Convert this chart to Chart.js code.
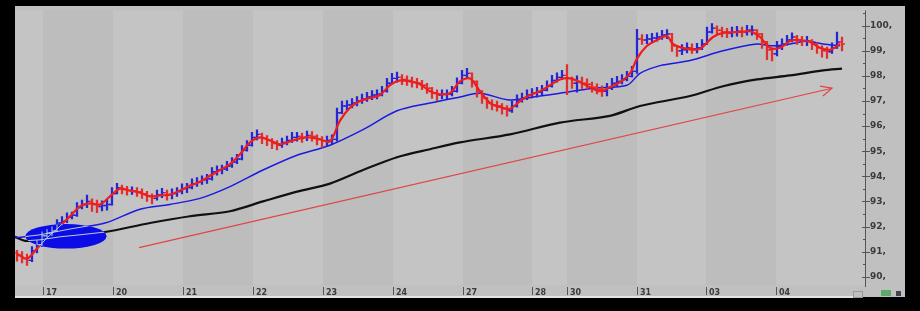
<!DOCTYPE html>
<html>
<head>
<meta charset="utf-8">
<script src="https://cdn.jsdelivr.net/npm/chart.js@4.4.0/dist/chart.umd.min.js"></script>
<style>
    html, body { margin: 0; padding: 0; background: #000; }
    canvas { display: block; }
</style>
</head>
<body>
<canvas id="priceChart" width="920" height="311"></canvas>
<script>
// one bar per entry, roughly 14 bars per trading day
var closes = [
    90.84, 90.72, 90.65, 91.04, 91.27, 91.63, 91.74, 91.82, 92.14, 92.21,
    92.37, 92.45, 92.76, 92.88, 93.00, 92.88, 92.80, 92.84, 92.88, 93.31,
    93.55, 93.47, 93.43, 93.43, 93.39, 93.31, 93.20, 93.12, 93.27, 93.35,
    93.27, 93.31, 93.39, 93.51, 93.55, 93.71, 93.78, 93.86, 93.90, 94.18,
    94.25, 94.29, 94.41, 94.57, 94.69, 95.04, 95.24, 95.55, 95.67, 95.51,
    95.43, 95.31, 95.24, 95.35, 95.43, 95.55, 95.59, 95.55, 95.63, 95.59,
    95.47, 95.39, 95.43, 95.47, 96.53, 96.80, 96.84, 96.92, 97.00, 97.08,
    97.16, 97.24, 97.27, 97.39, 97.71, 97.90, 97.94, 97.86, 97.82, 97.75,
    97.71, 97.63, 97.51, 97.31, 97.24, 97.27, 97.27, 97.39, 97.71, 98.02,
    98.10, 97.78, 97.39, 97.12, 96.92, 96.84, 96.80, 96.69, 96.61, 96.80,
    97.04, 97.12, 97.24, 97.31, 97.35, 97.43, 97.59, 97.82, 97.94, 98.02,
    97.90, 97.71, 97.78, 97.71, 97.67, 97.55, 97.47, 97.39, 97.51, 97.71,
    97.78, 97.86, 97.98, 98.18, 99.47, 99.43, 99.47, 99.51, 99.55, 99.63,
    99.67, 99.20, 99.00, 99.04, 99.12, 99.08, 99.12, 99.27, 99.75, 99.90,
    99.82, 99.75, 99.71, 99.75, 99.78, 99.75, 99.82, 99.82, 99.67, 99.35,
    99.04, 98.88, 99.16, 99.27, 99.43, 99.55, 99.43, 99.39, 99.39, 99.27,
    99.12, 99.00, 98.96, 99.12, 99.35, 99.27
];
var highs = [
    91.05, 91.00, 90.90, 91.20, 91.45, 91.80, 91.90, 92.00, 92.28, 92.40,
    92.55, 92.58, 92.95, 93.05, 93.25, 93.10, 93.05, 93.02, 93.08, 93.55,
    93.72, 93.65, 93.60, 93.58, 93.55, 93.50, 93.40, 93.30, 93.45, 93.52,
    93.45, 93.50, 93.55, 93.70, 93.72, 93.90, 93.95, 94.02, 94.08, 94.35,
    94.42, 94.45, 94.60, 94.75, 94.88, 95.22, 95.42, 95.75, 95.85, 95.72,
    95.62, 95.50, 95.42, 95.52, 95.60, 95.75, 95.75, 95.72, 95.80, 95.78,
    95.65, 95.58, 95.60, 95.65, 96.72, 97.00, 97.02, 97.10, 97.18, 97.28,
    97.35, 97.42, 97.45, 97.58, 97.90, 98.10, 98.15, 98.05, 98.00, 97.95,
    97.90, 97.82, 97.70, 97.55, 97.45, 97.45, 97.45, 97.58, 97.92, 98.22,
    98.30, 98.12, 97.80, 97.42, 97.15, 97.05, 97.00, 96.90, 96.82, 97.00,
    97.25, 97.32, 97.45, 97.50, 97.55, 97.62, 97.80, 98.02, 98.12, 98.22,
    98.45, 97.95, 98.00, 97.95, 97.88, 97.75, 97.68, 97.60, 97.70, 97.90,
    97.98, 98.05, 98.18, 98.38, 99.86, 99.65, 99.65, 99.70, 99.72, 99.82,
    99.85, 99.70, 99.22, 99.25, 99.32, 99.28, 99.30, 99.45, 99.95, 100.08,
    100.00, 99.95, 99.90, 99.95, 99.98, 99.95, 100.02, 100.00, 99.85, 99.70,
    99.38, 99.10, 99.38, 99.48, 99.62, 99.72, 99.62, 99.58, 99.58, 99.45,
    99.32, 99.20, 99.15, 99.32, 99.75, 99.55
];
var lows = [
    90.62, 90.55, 90.45, 90.60, 90.95, 91.20, 91.55, 91.62, 91.78, 92.05,
    92.15, 92.30, 92.40, 92.70, 92.75, 92.60, 92.55, 92.62, 92.65, 92.85,
    93.30, 93.30, 93.25, 93.28, 93.20, 93.12, 93.00, 92.90, 93.05, 93.15,
    93.05, 93.10, 93.20, 93.30, 93.35, 93.50, 93.60, 93.68, 93.72, 93.85,
    94.05, 94.10, 94.22, 94.35, 94.50, 94.65, 95.00, 95.20, 95.45, 95.30,
    95.22, 95.10, 95.05, 95.15, 95.25, 95.35, 95.40, 95.35, 95.42, 95.40,
    95.25, 95.15, 95.20, 95.28, 95.40, 96.50, 96.65, 96.72, 96.80, 96.90,
    96.98, 97.05, 97.08, 97.20, 97.35, 97.68, 97.75, 97.65, 97.62, 97.55,
    97.52, 97.45, 97.30, 97.10, 97.02, 97.08, 97.08, 97.20, 97.35, 97.68,
    97.90, 97.55, 97.15, 96.90, 96.70, 96.65, 96.60, 96.48, 96.40, 96.55,
    96.75, 96.95, 97.05, 97.12, 97.15, 97.25, 97.40, 97.55, 97.75, 97.85,
    97.25, 97.50, 97.35, 97.50, 97.48, 97.35, 97.28, 97.18, 97.20, 97.45,
    97.58, 97.68, 97.80, 97.95, 98.10, 99.25, 99.28, 99.32, 99.38, 99.45,
    99.48, 98.98, 98.78, 98.85, 98.92, 98.90, 98.92, 99.05, 99.25, 99.70,
    99.62, 99.55, 99.52, 99.55, 99.58, 99.55, 99.62, 99.62, 99.45, 99.10,
    98.65, 98.60, 98.80, 99.05, 99.22, 99.35, 99.25, 99.20, 99.20, 99.05,
    98.90, 98.75, 98.70, 98.90, 99.10, 99.00
];
var firstOpen = 90.95;

// moving averages (bar index, price)
var fastX = [0, 2, 4, 6, 8, 10.6, 12.6, 14.6, 16.6, 18.6, 20.6, 22.6, 24.6, 26.6, 28.6, 30.6,
    32.6, 34.6, 36.6, 38.6, 40.6, 42.6, 44.6, 46.6, 48.6, 50.6, 52.6, 54.6, 56.6, 58.6, 60.6, 62.6,
    64.6, 66.6, 68.6, 70.6, 72.6, 74.6, 76.6, 78.6, 80.6, 82.6, 84.6, 86.6, 88.6, 90.6, 92.6, 94.6,
    96.6, 98.6, 100.6, 102.6, 104.6, 106.6, 108.6, 110.6, 112.6, 114.6, 116.6, 118.6, 120.6, 122.6,
    124, 126, 128, 130, 131.2, 134, 136.6, 139.2, 141.2, 144.6, 146.6, 148.6, 150.6, 152.6, 154.6,
    156.6, 158.6, 160.6, 162.6, 164.6];
var fastY = [90.92, 90.72, 91.12, 91.55, 91.90, 92.41, 92.80, 92.92, 92.88, 93.20, 93.51, 93.43,
    93.35, 93.20, 93.24, 93.27, 93.43, 93.63, 93.78, 94.02, 94.25, 94.49, 94.88, 95.35, 95.55, 95.43,
    95.27, 95.39, 95.51, 95.55, 95.47, 95.39, 96.22, 96.73, 97.00, 97.12, 97.24, 97.63, 97.82, 97.78,
    97.67, 97.39, 97.27, 97.31, 97.78, 97.90, 97.39, 96.92, 96.76, 96.69, 97.00, 97.24, 97.39, 97.63,
    97.86, 97.90, 97.75, 97.55, 97.39, 97.55, 97.75, 98.10, 98.69, 99.20, 99.43, 99.59, 99.27, 99.08,
    99.08, 99.55, 99.71, 99.75, 99.78, 99.55, 99.12, 99.12, 99.39, 99.43, 99.35, 99.12, 99.04, 99.27];

var midX = [-0.4, 4.6, 10.6, 17.6, 24.6, 30.6, 36.6, 42.6, 49.2, 56, 62.6, 69.2, 76, 82.6, 88.6,
    92.6, 98.6, 104.6, 108.6, 115.2, 122, 124.6, 128.6, 134.6, 141.2, 148, 151.2, 154.6, 158, 161.2, 164.6];
var midY = [91.55, 91.67, 91.90, 92.14, 92.69, 92.88, 93.12, 93.59, 94.25, 94.84, 95.24, 95.86, 96.61,
    96.92, 97.16, 97.31, 97.04, 97.20, 97.31, 97.51, 97.63, 98.10, 98.41, 98.61, 99.00, 99.27, 99.20,
    99.27, 99.39, 99.27, 99.20];

var slowX = [-0.4, 1.6, 4.6, 8.6, 12.6, 17.6, 26.6, 34.6, 42.6, 49.2, 56, 62.6, 69.2, 76, 82.6, 88.6,
    98.6, 108.6, 118.6, 124.6, 134.6, 141.2, 148, 154.6, 161.2, 165];
var slowY = [91.59, 91.43, 91.47, 91.59, 91.67, 91.78, 92.14, 92.41, 92.61, 93.00, 93.39, 93.71, 94.25,
    94.76, 95.08, 95.35, 95.67, 96.14, 96.41, 96.80, 97.20, 97.59, 97.86, 98.02, 98.22, 98.29];

// hand drawn trend arrow
var trendX = [24.4, 163];
var trendY = [91.16, 97.51];
var headX = [160.6, 163, 161.2];
var headY = [97.59, 97.51, 97.20];

// blue ring drawn over the start
var ringX = 9.8, ringY = 91.61, ringW = 8.1, ringH = 0.49;

// days along the bottom
var dayLabels = ['17', '20', '21', '22', '23', '24', '27', '28', '30', '31', '03', '04'];
var dayPos = [5.2, 19.2, 33.2, 47.2, 61.2, 75.2, 89.2, 103, 110, 124, 137.8, 151.8];
var yTicks = [90, 91, 92, 93, 94, 95, 96, 97, 98, 99, 100];

var UP = '#2626d4';
var DOWN = '#e22e2e';

function pts(xs, ys) {
    return xs.map(function (x, i) { return { x: x, y: ys[i] }; });
}

var opens = closes.map(function (c, i) { return i === 0 ? firstOpen : closes[i - 1]; });
var barColors = closes.map(function (c, i) { return c >= opens[i] ? UP : DOWN; });

var backdrop = {
    id: 'backdrop',
    beforeDraw: function (chart) {
        var ctx = chart.ctx, a = chart.chartArea, sx = chart.scales.x;
        ctx.save();
        ctx.fillStyle = '#c0c0c0';
        ctx.fillRect(15, 6, 890, 291);
        var edges = [sx.min].concat(dayPos, [sx.max]);
        for (var i = 0; i < edges.length - 1; i++) {
            var x0 = sx.getPixelForValue(edges[i]);
            var x1 = sx.getPixelForValue(edges[i + 1]);
            ctx.fillStyle = i % 2 === 0 ? '#c4c4c4' : '#bdbdbd';
            ctx.fillRect(x0, a.top, x1 - x0, a.bottom - a.top);
        }
        ctx.restore();
    }
};

var ring = {
    id: 'ring',
    afterDatasetsDraw: function (chart) {
        var ctx = chart.ctx, sx = chart.scales.x, sy = chart.scales.y;
        var cx = sx.getPixelForValue(ringX), cy = sy.getPixelForValue(ringY);
        var rx = sx.getPixelForValue(ringX + ringW) - cx;
        var ry = cy - sy.getPixelForValue(ringY + ringH);
        ctx.save();
        ctx.beginPath();
        ctx.ellipse(cx, cy, rx, ry, 0, 0, Math.PI * 2);
        ctx.fillStyle = '#0c0ce6';
        ctx.fill();
        ctx.clip();
        // the marks underneath still show through, pale
        ctx.strokeStyle = '#b7cfd8';
        ctx.lineWidth = 1;
        chart.data.datasets.forEach(function (ds, i) {
            var meta = chart.getDatasetMeta(i);
            if (ds.ghost === 'line') {
                ctx.beginPath();
                meta.data.forEach(function (p, j) {
                    if (j === 0) ctx.moveTo(p.x, p.y); else ctx.lineTo(p.x, p.y);
                });
                ctx.stroke();
            } else if (ds.ghost === 'bar') {
                meta.data.forEach(function (b) {
                    ctx.beginPath();
                    ctx.moveTo(b.x, b.y);
                    ctx.lineTo(b.x, b.base);
                    ctx.stroke();
                });
            } else if (ds.ghost === 'tick') {
                meta.data.forEach(function (p) {
                    ctx.beginPath();
                    ctx.moveTo(p.x - 1.5, p.y);
                    ctx.lineTo(p.x + 1.5, p.y);
                    ctx.stroke();
                });
            }
        });
        ctx.restore();
    }
};

var axisMarks = {
    id: 'axisMarks',
    afterDraw: function (chart) {
        var ctx = chart.ctx, a = chart.chartArea, sx = chart.scales.x, sy = chart.scales.y;
        ctx.save();
        ctx.strokeStyle = '#555';
        ctx.lineWidth = 1;
        ctx.beginPath();
        ctx.moveTo(a.right + 0.5, a.top);
        ctx.lineTo(a.right + 0.5, a.bottom + 2);
        yTicks.forEach(function (v) {
            var py = Math.round(sy.getPixelForValue(v)) + 0.5;
            ctx.moveTo(a.right - 3, py);
            ctx.lineTo(a.right + 5, py);
            var pm = Math.round(sy.getPixelForValue(v + 0.5)) + 0.5;
            if (v + 0.5 < sy.max) {
                ctx.moveTo(a.right - 2, pm);
                ctx.lineTo(a.right + 1, pm);
            }
        });
        dayPos.forEach(function (d) {
            var px = Math.round(sx.getPixelForValue(d)) + 0.5;
            ctx.moveTo(px, a.bottom + 2);
            ctx.lineTo(px, a.bottom + 10);
        });
        ctx.stroke();
        // scroll strip along the bottom
        ctx.fillStyle = '#e4e4e4';
        ctx.fillRect(15, 296, 838, 2);
        ctx.strokeStyle = '#9a9a9a';
        ctx.strokeRect(853.5, 291.5, 9, 6);
        ctx.fillStyle = '#5aa86a';
        ctx.fillRect(881, 290, 10, 6);
        ctx.fillStyle = '#445';
        ctx.fillRect(896, 291, 5, 5);
        ctx.restore();
    }
};

var ctx = document.getElementById('priceChart').getContext('2d');

var priceChart = new Chart(ctx, {
    type: 'line',
    data: {
        datasets: [
            {
                type: 'line', data: pts(trendX, trendY), borderColor: '#e04444', borderWidth: 1.2,
                pointRadius: 0, tension: 0, order: 0
            },
            {
                type: 'line', data: pts(headX, headY), borderColor: '#e04444', borderWidth: 1.2,
                pointRadius: 0, tension: 0, order: 0
            },
            {
                type: 'line', ghost: 'line', data: pts(fastX, fastY), borderColor: '#f01c1c',
                borderWidth: 2.2, pointRadius: 0, tension: 0.3, order: 1
            },
            {
                type: 'bar', ghost: 'bar',
                data: closes.map(function (c, i) { return { x: i, y: [lows[i], highs[i]] }; }),
                backgroundColor: barColors, barThickness: 1.6, grouped: false, order: 2
            },
            {
                type: 'line', ghost: 'tick', showLine: false,
                data: opens.map(function (o, i) { return { x: i - 0.3, y: o }; }),
                pointStyle: 'line', pointRadius: 1.5, pointBorderWidth: 1.4,
                pointBorderColor: barColors, order: 2
            },
            {
                type: 'line', ghost: 'tick', showLine: false,
                data: closes.map(function (c, i) { return { x: i + 0.3, y: c }; }),
                pointStyle: 'line', pointRadius: 1.5, pointBorderWidth: 1.4,
                pointBorderColor: barColors, order: 2
            },
            {
                type: 'line', ghost: 'line', data: pts(midX, midY), borderColor: '#1a1ae0',
                borderWidth: 1.5, pointRadius: 0, tension: 0.3, order: 3
            },
            {
                type: 'line', ghost: 'line', data: pts(slowX, slowY), borderColor: '#111111',
                borderWidth: 2.2, pointRadius: 0, tension: 0.3, order: 4
            }
        ]
    },
    options: {
        responsive: false,
        devicePixelRatio: 1,
        animation: false,
        events: [],
        layout: { padding: { left: 15, top: 6, right: 15, bottom: 14 } },
        plugins: { legend: { display: false }, tooltip: { enabled: false } },
        scales: {
            x: {
                type: 'linear', min: -0.4, max: 169.6, offset: false,
                grid: { display: false, drawTicks: false }, border: { display: false },
                afterFit: function (s) { s.height = 12; },
                afterBuildTicks: function (s) { s.ticks = dayPos.map(function (v) { return { value: v }; }); },
                ticks: {
                    autoSkip: false, maxRotation: 0, align: 'start', labelOffset: 3, padding: 3,
                    color: '#3a3a3a', font: { family: 'DejaVu Sans', size: 8, weight: 'bold' },
                    callback: function (v, i) { return dayLabels[i]; }
                }
            },
            y: {
                type: 'linear', position: 'right', min: 89.67, max: 100.61, beginAtZero: false,
                grid: { display: false, drawTicks: false }, border: { display: false },
                afterFit: function (s) { s.width = 40; },
                afterBuildTicks: function (s) { s.ticks = yTicks.map(function (v) { return { value: v }; }); },
                ticks: {
                    padding: 5, color: '#3a3a3a',
                    font: { family: 'DejaVu Sans', size: 9, weight: 'bold' },
                    callback: function (v) { return v + ','; }
                }
            }
        }
    },
    plugins: [backdrop, ring, axisMarks]
});
</script>
</body>
</html>
